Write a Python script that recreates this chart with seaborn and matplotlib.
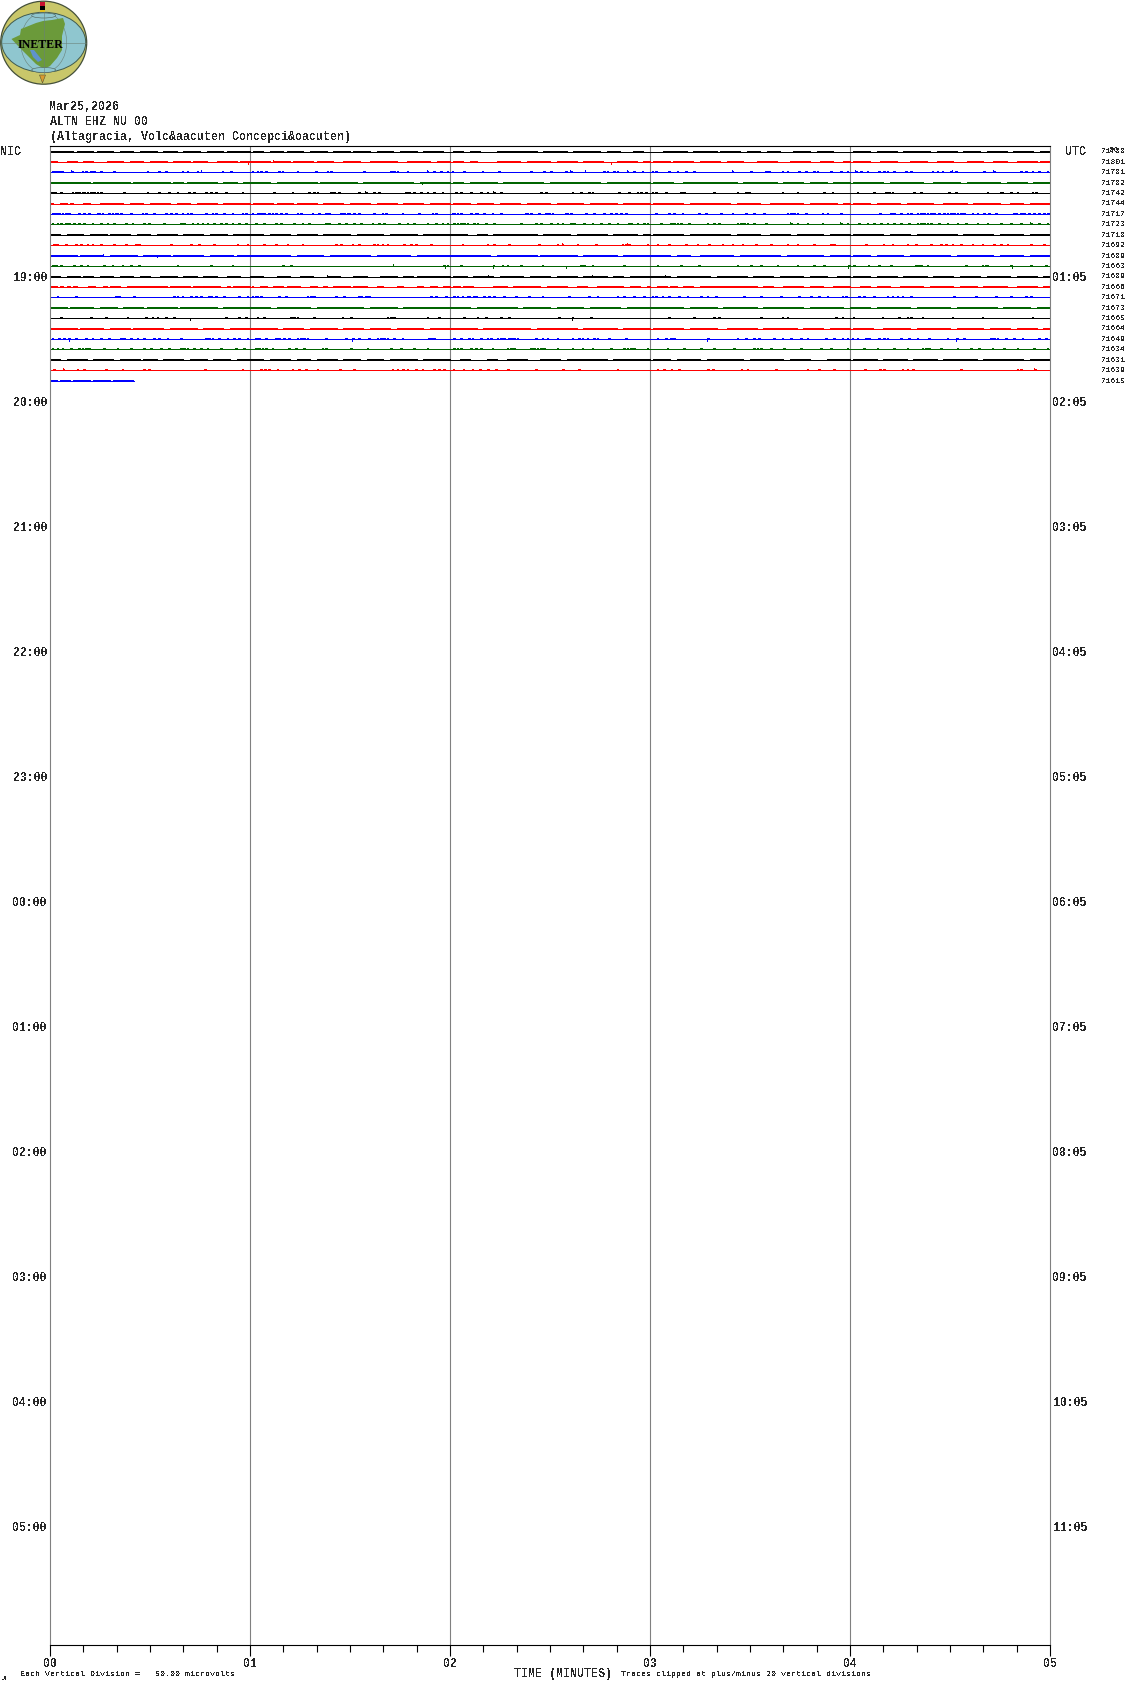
import matplotlib
matplotlib.use("Agg")
import matplotlib.pyplot as plt
from matplotlib.patches import Ellipse, Polygon, Rectangle
import pandas as pd
import seaborn as sns

sns.set_style("white")
plt.rcParams["font.family"] = ["Liberation Mono", "DejaVu Sans Mono"]
plt.rcParams["text.antialiased"] = False

DATE_TEXT = "Mar25,2026"
STATION_TEXT = "ALTN EHZ NU 00"
PLACE_TEXT = "(Altagracia, Volc&aacuten Concepci&oacuten)"
NIC_HOURS = ["19:00", "20:00", "21:00", "22:00", "23:00", "00:00", "01:00", "02:00", "03:00", "04:00", "05:00"]
UTC_HOURS = ["01:05", "02:05", "03:05", "04:05", "05:05", "06:05", "07:05", "08:05", "09:05", "10:05", "11:05"]
MINUTE_LABELS = ["00", "01", "02", "03", "04", "05"]
TRACE_COUNTS = [71788, 71801, 71781, 71782, 71742, 71744, 71717, 71723, 71718, 71692, 71689, 71663,
                71689, 71666, 71671, 71673, 71665, 71664, 71649, 71634, 71631, 71639, 71615]
TRACE_COLORS = ["black", "red", "blue", "darkgreen"]
TRACE_END = [300] * 22 + [25.2]

# Dense stretches of each trace: flat start,end pairs in seconds
RUNS_01 = [0,7,8,13,14,19,21,25,27,32,34,38,40,45,47,52,53,60,61,64,66,70,71,76,78,83,85,90,91,96,98,103,105,110,112,118,
           121,124,126,129,134,146,148,155,157,165,167,171,175,178,184,191,193,200,201,207,209,213,215,219,223,228,230,235,
           241,246,248,254,256,264,266,272,274,279,281,287,289,295,297,300]
RUNS_02 = [0,2,5,8,10,13,17,22,24,28,30,35,37,42,43,47,50,56,57,60,60,66,67,72,73,79,80,85,88,93,96,104,107,114,116,120,
           121,124,126,128,134,141,143,150,152,158,160,166,170,176,178,180,181,186,187,193,195,201,203,208,212,218,222,228,231,235,238,240,
           241,246,249,254,258,263,266,271,275,280,283,287,290,296,297,300]
RUNS_04 = [0,12,13,24,25,36,37,40,41,50,52,56,58,60,60,66,68,80,81,92,94,109,111,120,121,124,126,134,136,148,150,165,167,180,
           181,187,190,206,208,218,220,226,228,233,235,240,241,250,252,262,265,273,275,285,287,293,295,300]
RUNS_06 = [0,1,3,5,6,7,10,12,15,22,24,28,30,36,38,42,44,50,52,60,61,67,68,73,74,80,82,88,90,96,98,104,106,112,114,120,
           121,126,128,133,135,141,143,150,152,160,162,170,172,180,181,190,192,204,206,213,216,226,228,236,238,240,
           241,246,248,255,257,265,268,275,277,285,288,292,294,300]
RUNS_09 = [0,3,5,10,12,17,18,24,26,30,32,38,40,46,48,53,55,60,60,64,66,72,74,80,82,90,92,100,102,110,112,120,
           120,125,128,131,133,146,148,156,158,167,169,176,178,180,181,190,192,204,206,213,216,222,224,232,234,240,
           241,250,252,258,260,272,274,283,285,292,294,300]
RUNS_11 = [0,8,9,16,18,26,28,36,37,46,48,55,56,60,60,72,74,82,84,96,98,108,110,120,120,132,134,146,147,158,160,170,172,180,
           180,186,188,192,195,205,207,219,221,232,234,240,241,246,248,256,258,270,272,283,285,292,294,300]
RUNS_13 = [0,3,5,9,10,13,15,19,21,25,27,30,33,38,40,44,46,50,53,57,60,64,68,72,75,79,83,87,91,95,99,104,106,109,110,120,
           121,125,127,133,135,142,144,150,152,158,160,167,169,172,174,180,180,186,188,198,200,209,211,217,219,226,228,233,236,240,
           241,246,248,254,256,263,265,271,273,279,281,288,290,296,298,300]
RUNS_14 = [0,0.6,1,2,3,4,5,6,7,8,11.5,13.5,16,17,18,21,23,35,36,42,43,51,53,54,55,60,60.5,61,63,65,67,70,71,75,78,80,82,83,85,90,91,95,98,100,
           104,106,110,112,114,116,118,120,121,123,124,127,133,137,139,147,149,155,158,161,164,172,174,177,179,180,
           182,185,186,188,190,193,195,212,214,217,220,226,228,232,235,240,243,246,248,252,255,262,264,271,273,278,280,287,290,296,298,300]
RUNS_16 = [0,5,6,13,15,20,22,28,29,38,39,50,52,60,60,66,68,78,80,94,96,104,106,120,120,126,128,140,142,150,152,160,162,171,173,180,
           180,190,192,200,202,212,214,226,228,238,240,246,248,258,260,270,272,284,286,294,296,300]
RUNS_18 = [0,8,9,16,18,24,25,34,36,44,46,52,54,60,60,68,70,76,78,86,88,94,96,102,104,112,114,120,120,128,130,144,146,158,160,170,172,180,
           181,190,192,200,203,212,214,224,226,232,234,240,241,247,250,258,260,270,272,280,282,288,290,296,298,300]
RUNS_21 = [0,3,5,11,13,19,21,27,28,32,34,40,42,47,49,54,56,60,60,64,66,72,74,78,80,86,88,93,95,100,102,110,112,120,
           123,126,131,134,137,143,147,153,155,167,169,180,181,186,188,195,197,208,210,220,222,228,233,240,
           241,248,250,257,259,266,268,278,280,292,294,300]
RUNS_23 = [0,2,3,6,7,12,13,18,19,25]

# Isolated one-sample excursions of each trace: seconds
TICKS_03 = [0.5,1.2,2.2,3,3.5,6.5,9.5,10.5,12,13,15,19,29,32.5,34.5,39.5,41,44,51.5,54,
            60.5,62,63,64.5,68.5,69.5,74,79.5,83,84,94,102,103,104,107,113,115,117,119,
            120.5,124,129.5,134.5,144,148,150,154.5,156,166,167,169,170,173,175,177.5,
            180.5,181.5,185.5,188,190.5,193,204.5,210,214.5,215.5,219.5,221,224.5,226.5,229,230,234,237,239,
            241.5,243,245,248.5,250,251,253,256.5,258,264.5,266,267.5,270,271.5,280,283,291,292.5,294.5,296.5,299]
TICKS_05 = [0.3,0.8,1.3,3,6.5,7.5,8.5,9.5,10,11,12,13,14,15,22,29,32.5,35.5,38,41.5,43,46.5,48,49.5,52.5,57.5,
            67,72.5,77.5,79,80,84,85,86.5,92.5,94.5,97,98.5,106.5,107.5,109,111,113,115,117.5,
            121.5,123,126,129,131,133,135,147,148.5,156.5,159,161.5,162.5,170.5,173.5,176,177,178.5,
            180.5,181.5,184.5,189,190,199,206,208.5,209.5,219.5,224,232,234.5,
            242,247,250.5,251.5,252.5,259,261,269.5,271.5,281,285,285.5,288,290,294.5,295.5]
TICKS_07 = [0.5,1,1.5,2.5,3.5,4.5,5,5.5,8.5,10,11.5,14,14.5,15.5,17.5,18.5,19.5,20,21,24,27.5,28.5,31,34.5,36,37.5,39.5,41,42,46.5,48.5,49.5,52,54.5,57.5,58.5,
            60.5,62,62.5,63,64,65.5,66.5,67.5,69,70.5,74,75,78.5,80.5,82.5,83.5,87,88,89,89.5,91,92.5,97,99.5,100.5,105.5,110.5,114.5,115.5,
            120.5,121,122,123,126,127.5,128,130,132.5,135,142.5,143,144,146.5,148.5,149.5,150.5,154.5,155,156,160.5,163,166,168,169.5,171,172.5,
            181.5,185.5,187,189.5,194.5,196.5,201,204.5,208.5,211,214,221,222,223,224,226.5,231.5,233,237,
            248.8,252,253,255,257,258,260,261,262,263,264,265,266.5,268,269,270,271,272,273,274,276.5,278,280,281.5,283.5,289,291,296.5,299,
            289.5,292,293.5,295,298,299.5]
TICKS_08 = [0.5,2,3,4.5,5.5,7,8.5,10,12.5,15,17,19,22.5,24.5,28,29.5,34,39,40,42.5,44,45.5,47,49,51,52.5,54.5,56.5,58.5,
            61.5,64,67.5,69,73,75.5,77.5,82.5,83.5,86.5,88.5,91,93,96.5,98.5,100,104.5,107,109,113,115.5,117.5,119,
            121,122,123,124,125,127,128,130.5,133,141,145.5,147,153.5,156,156.5,157,150,152,160,162.5,165,167.5,170,173.5,174,176,178,179,
            183,186,187,188,189,191.5,197,199,200.5,206,207,208,209,211,214.5,222,224,227,231.5,237,239,
            242.5,245,247,249,251,253,255,257.5,260,261,262,263,264,266.5,269,272,274.5,278,281,285,288,291,294,296.5,299]
TICKS_10 = [1,1.5,2,4.5,7.5,9,11,12.5,15,19,22.5,25.5,26.5,36,42,44.5,49,56,59,
            64,67.5,71,75.5,85.5,87,90.5,92.5,97,98,99.5,101,106,108,109.5,114,
            123.5,131,133,137.5,146.5,152,153.5,158,163.5,171.5,172.5,173.5,179,
            182,185.5,190.5,194,197.5,201.5,204.5,207.5,211.5,216,221,224,229,234,235,
            244.5,249.8,252.5,257,259.5,264,267,268.5,270.5,273,276.5,279.5,283,285,287,294,298]
TICKS_12 = [0.5,1,1.5,3,7,9,11,16,18.5,21.5,24,26.5,38,48,54.5,69.7,72,118,119,123,
            132.8,135.5,137,141,147.5,159,159.5,160,162.5,172,182,189,194.5,206,210,213,218,224,229,232,239.5,
            241,245.3,248.5,252,259.5,260.5,261,263,274.5,279.5,280.5,281,288,294,298.5]
TICKS_15 = [2,7.5,19.5,20.5,25,37,38,39.5,42,43.5,45,47.5,48,49.5,52,56.5,59,
            60.5,61.5,62,63,68.5,70.5,77,78,79,85.5,88,92.5,93,94.5,95.5,114,115.5,118.5,122,125,127,
            121,123.5,125.5,127.5,130,131.5,133,136,139.5,143.5,147.5,155.5,161.5,164,170,172,175,178,
            180.5,181.5,183.5,185.5,188.5,191,195,197,199.5,208,213,219,224.5,228,230.5,233,237.5,238.5,
            242.5,244,247,251,252.5,254,255.5,258,271,277.5,283.5,288,292.5,294]
TICKS_17 = [3,12,16.5,23,28.5,30.5,32,34.5,37,52.5,56.5,58.5,62,64,72,73,74,79,87.5,90,101,102,103,113,116.5,
            124,128,130.5,135,137.5,152.5,156.5,162,185.5,193,199,200.5,213,219.5,221,235.5,237.5,
            240.8,249.5,254.5,257,258,261.5,270.5,279.5,294.5]
TICKS_19 = [0.5,2.5,4,5.5,7.5,10.5,12.5,15,17.5,21,21.5,22,24,26,28,31,32.5,35,39,46.5,47.5,48.5,50.5,53,55,56.5,59,
            61.5,62.5,64.5,67.5,68.5,70,71.5,74,75,76,77,82.5,88.5,90.7,92.5,95.5,98,99,100,101,103,105.5,113.5,114,115,
            121,123,125.5,126.5,129,131,132,134,135,136,137.5,138,139,140,145.5,147.5,149,152,156.5,158.5,159.5,161,163,164,167.5,172.5,
            182,184.5,186,187,197.2,206,208.5,211,212.5,217,219.5,222,225,227,232.5,235,237.5,239,
            240.5,242,244.5,245.5,248.5,250,251,255,257.5,260,263.5,269,271.8,274,282,283,284,286.5,289,291.5,296.5,298.5]
TICKS_20 = [0.5,2,3.5,6,8.5,9.5,10.5,11.5,16,20,24,28,30,33,35.5,39,40,41,43,45,47,51,55.5,58,
            61.5,62.5,63.5,64.5,66.5,71.5,73.5,76,81.5,82.5,90,95,102,105,109,113,
            121,122,123,126,127.5,129,132.5,137,138,139,144,145,146,147,148,152,156.5,159.5,162.5,168,172,173,174,175,179,
            185,190,195,199,205,211,212,213,216,220,225,231,234,239,
            244,248,253,257,261.5,262.5,263.5,267,272,276,278.5,282.5,286,290,295,299]
TICKS_22 = [1,3.8,8,10,16.5,21.5,28,29.5,46.3,57.5,63,64.2,65.5,68,72.5,74.5,76.5,80,86.8,91,102.5,104,105.7,107,109.5,111.5,115,116.5,118,
            120.8,123.8,126.5,128.8,131.2,133.5,137.2,145.5,153.7,158.5,170,
            182,184,186.2,188.5,197.2,198.7,207.2,209,217.5,227,230.5,235,
            244.3,248.8,250,255.5,257,258.7,273,290,291,295.2]

# Larger excursions: trace number, second, size in pixels (negative is downward)
PEAK_TRACES = [2, 2, 2, 3, 3, 3, 3, 3, 3, 3, 3, 3, 3, 4, 5, 5, 8, 8, 8, 10, 10, 11, 11, 12, 12, 12, 12, 12, 12, 13, 13, 13, 13, 17, 17, 19, 19, 19, 19, 22, 22]
PEAK_TIMES = [59.3, 67, 168.4, 6.2, 45.4, 113, 156, 160.5, 173, 204.5, 241.5, 270.5, 283, 111.5, 94.5, 133, 222, 237, 294, 153.5, 173, 16, 32, 118.5, 103, 132.8, 154.7, 239.5, 288.5, 83, 131.5, 162.5, 184.5, 156.5, 42, 5.7, 90.7, 197.2, 271.8, 3.8, 295.2]
PEAK_SIZES = [-2, 2, -2, 2, 2, 2, 2, 2, 2, 2, 2, 2, 2, -1, 2, 2, 2, 2, 2, 2, 2, 2, -1, -2, 2, -2, -2, -2, -2, 2, 2, 2, 2, -2, -2, -2, -2, -2, -2, 2, 2]

ALL_RUNS = {1: RUNS_01, 2: RUNS_02, 4: RUNS_04, 6: RUNS_06, 9: RUNS_09, 11: RUNS_11, 13: RUNS_13, 14: RUNS_14,
            16: RUNS_16, 18: RUNS_18, 21: RUNS_21, 23: RUNS_23}
ALL_TICKS = {3: TICKS_03, 5: TICKS_05, 7: TICKS_07, 8: TICKS_08, 10: TICKS_10, 12: TICKS_12, 15: TICKS_15,
             17: TICKS_17, 19: TICKS_19, 20: TICKS_20, 22: TICKS_22}

W, H = 1130, 1689
LEFT, RIGHT, TOP, BOTTOM = 50, 1050, 146, 1645
ROW0, ROW_PX = 151.5, 125 / 12
PX = 1 / ROW_PX
TICK_WIDTH = 0.5

rows = []
unit = 0


def segment(trace, x0, y0, x1, y1):
    global unit
    color = TRACE_COLORS[(trace - 1) % 4]
    rows.append((unit, color, x0, y0))
    rows.append((unit, color, x1, y1))
    unit += 1


for n in range(1, len(TRACE_COUNTS) + 1):
    base = n - 1
    segment(n, 0, base, TRACE_END[n - 1], base)
    runs = ALL_RUNS.get(n, [])
    for a, b in zip(runs[::2], runs[1::2]):
        segment(n, a, base - PX, b, base - PX)
    for t in ALL_TICKS.get(n, []):
        segment(n, t, base - PX, t + TICK_WIDTH, base - PX)
for n, t, s in zip(PEAK_TRACES, PEAK_TIMES, PEAK_SIZES):
    segment(n, t, n - 1, t, n - 1 - s * PX)

df = pd.DataFrame(rows, columns=["unit", "color", "sec", "row"])

fig = plt.figure(figsize=(W / 100, H / 100), dpi=100, facecolor="white")
ax = fig.add_axes([LEFT / W, 1 - BOTTOM / H, (RIGHT - LEFT) / W, (BOTTOM - TOP) / H])
sns.lineplot(data=df, x="sec", y="row", hue="color", units="unit", estimator=None, sort=False,
             palette={c: c for c in TRACE_COLORS}, legend=False, ax=ax, linewidth=0.72,
             antialiased=False, solid_capstyle="butt")
ax.set_xlim(0, 300)
ax.set_ylim((BOTTOM - ROW0) / ROW_PX, (TOP - ROW0) / ROW_PX)
ax.set_xlabel("")
ax.set_ylabel("")

for side, color in (("top", "black"), ("bottom", "black"), ("left", "#808080"), ("right", "#808080")):
    ax.spines[side].set_color(color)
    ax.spines[side].set_linewidth(0.8)

for minute in range(1, 5):
    ax.axvline(minute * 60, color="#808080", lw=0.8, zorder=0.5)

ax.set_xticks([m * 60 for m in range(6)])
ax.set_xticklabels(MINUTE_LABELS, fontsize=8.3, fontweight="bold", family=["Liberation Mono"])
ax.set_xticks([s for s in range(0, 301, 10) if s % 60], minor=True)
ax.tick_params(axis="x", which="major", bottom=True, length=8, width=0.8, color="black", pad=1.7)
ax.tick_params(axis="x", which="minor", bottom=True, length=5, width=0.8, color="black")

hour_rows = [12 * (k + 1) for k in range(len(NIC_HOURS))]
ax.set_yticks(hour_rows)
ax.set_yticklabels(NIC_HOURS, fontsize=8.3, fontweight="bold")

twin = ax.twinx()
twin.set_ylim(ax.get_ylim())
twin.set_yticks(hour_rows)
twin.set_yticklabels(UTC_HOURS, fontsize=8.3, fontweight="bold")
twin.tick_params(axis="y", left=False, right=False, length=0, pad=2)
ax.tick_params(axis="y", left=False, right=False, length=0, pad=2)
for spine in twin.spines.values():
    spine.set_visible(False)


def put(x, y, text, size, weight="normal", ha="left"):
    fig.text(x / W, 1 - y / H, text, fontsize=size, fontweight=weight, ha=ha, va="center")


put(50, 107, DATE_TEXT, 8.4, "bold")
put(50, 122, STATION_TEXT, 8.4, "bold")
put(50, 137, PLACE_TEXT, 8.4, "bold")
put(0, 152, "NIC", 8.4, "bold")
put(1065, 152, "UTC", 8.4, "bold")
put(1110, 150, "00", 5.8)
for i, count in enumerate(TRACE_COUNTS):
    put(1101, ROW0 + i * ROW_PX + 0.4, str(count), 5.8)
put(20, 1675, "Each Vertical Division =   50.00 microvolts", 6)
put(514, 1674, "TIME (MINUTES)", 8.4, "bold")
put(621, 1675, "Traces clipped at plus/minus 20 vertical divisions", 6)
put(2, 1679, "JL", 4)

# Institute logo, in pixels of the page
logo = fig.add_axes([0, 1 - 90 / H, 90 / W, 90 / H])
logo.set_xlim(0, 90)
logo.set_ylim(90, 0)
logo.axis("off")
logo.add_patch(Ellipse((43.7, 42.7), 86, 83, fc="#c9c76a", ec="#44503a", lw=0.9))
logo.add_patch(Ellipse((43.7, 42.3), 84, 60, fc="#8fc6cf", ec="#3f5a50", lw=0.7))
LAND = [(11.5, 39), (20, 35), (21, 29), (36, 23), (43, 21), (52, 20), (63, 18), (65, 24), (62, 36), (62, 50),
        (57, 58), (50, 66), (44, 69), (36, 64), (28, 56), (20, 48)]
logo.add_patch(Ellipse((43.7, 42.3), 46, 60, fc="none", ec="#6a8078", lw=0.4))
logo.plot([2, 86], [42.5, 42.5], color="#6a8078", lw=0.4)
logo.plot([43.7, 43.7], [12, 74], color="#6a8078", lw=0.4)
logo.add_patch(Polygon(LAND, closed=True, fc="#6b9a3a", ec="none"))
LAKE = [(30, 50), (34, 50), (38, 55), (42, 60), (38, 62), (33, 57)]
logo.add_patch(Polygon(LAKE, closed=True, fc="#5f93cc", ec="none"))
logo.add_patch(Ellipse((43.7, 15.5), 24, 5, fc="#8fc6cf", ec="#4b5d55", lw=0.4))
logo.add_patch(Ellipse((43.7, 70), 24, 5, fc="#8fc6cf", ec="#4b5d55", lw=0.4))
logo.add_patch(Rectangle((39.5, 2), 5.5, 4, fc="#c8102e", ec="none"))
logo.add_patch(Rectangle((39.5, 6), 5.5, 4, fc="black", ec="none"))
logo.add_patch(Rectangle((39.5, 10), 5.5, 2, fc="#e0c020", ec="none"))
logo.add_patch(Polygon([(39.5, 75), (45.5, 75), (42.5, 83)], closed=True, fc="#d99a30", ec="#555533", lw=0.4))
logo.text(40, 44.5, "INETER", fontsize=8.6, fontweight="bold", family=["Liberation Serif"], ha="center", va="center",
          color="black", antialiased=True)

fig.savefig("out.png", dpi=100, facecolor="white")
